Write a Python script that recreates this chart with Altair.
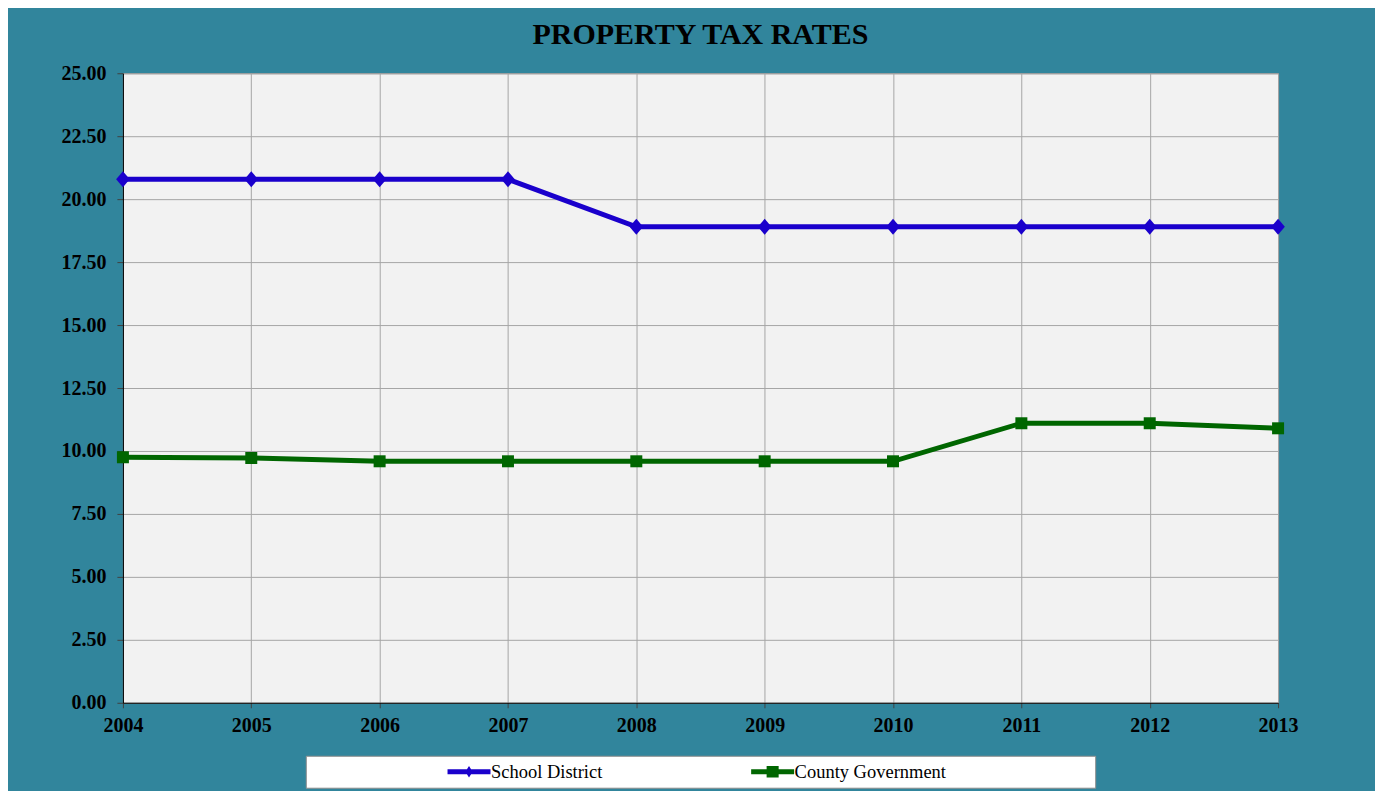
import altair as alt
import pandas as pd

# ---- data ----
years = [2004, 2005, 2006, 2007, 2008, 2009, 2010, 2011, 2012, 2013]
school_district = [20.79, 20.79, 20.79, 20.79, 18.90, 18.90, 18.90, 18.90, 18.90, 18.90]
county_government = [9.75, 9.72, 9.59, 9.59, 9.59, 9.59, 9.59, 11.10, 11.10, 10.90]
series_names = ["School District", "County Government"]
series_colors = ["#1a00cc", "#006600"]
y_ticks = [0, 2.5, 5, 7.5, 10, 12.5, 15, 17.5, 20, 22.5, 25]

FONT = "Liberation Serif"
BG = "#31859c"

# marker shapes (unit square paths)
DIAMOND = "M0,-1L0.85,0L0,1L-0.85,0Z"
SQUARE = "M-0.75,-0.75L0.75,-0.75L0.75,0.75L-0.75,0.75Z"
# legend symbols: line segment with marker
LEG_DIAMOND = "M-1,-0.12L1,-0.12L1,0.12L-1,0.12Z M0,-0.27L0.17,0L0,0.27L-0.17,0Z"
LEG_SQUARE = "M-1,-0.12L1,-0.12L1,0.12L-1,0.12Z M-0.28,-0.27L0.28,-0.27L0.28,0.27L-0.28,0.27Z"

df = pd.DataFrame({
    "year": years + years,
    "rate": school_district + county_government,
    "series": [series_names[0]] * len(years) + [series_names[1]] * len(years),
})

color = alt.Color("series:N", scale=alt.Scale(domain=series_names, range=series_colors), legend=None)

base = alt.Chart(df).encode(
    x=alt.X("year:Q",
            scale=alt.Scale(domain=[2004, 2013], nice=False, zero=False),
            axis=alt.Axis(values=years, format="d", title=None, labelFlush=False,
                          labelOverlap=False, labelPadding=8, tickSize=5,
                          domainColor="black", grid=True)),
    y=alt.Y("rate:Q",
            scale=alt.Scale(domain=[0, 25], nice=False, zero=True),
            axis=alt.Axis(values=y_ticks, format=".2f", title=None, labelPadding=11,
                          tickSize=6, domainColor="black", grid=True)),
    color=color,
)

lines = base.mark_line(strokeWidth=5)
points = base.mark_point(filled=True, opacity=1, size=256).encode(
    shape=alt.Shape("series:N", scale=alt.Scale(domain=series_names, range=[DIAMOND, SQUARE]), legend=None)
)

main = alt.layer(lines, points).properties(
    width=1156,
    height=630,
    title=alt.TitleParams("PROPERTY TAX RATES", font=FONT, fontSize=30, fontWeight="bold",
                          color="black", anchor="middle", frame="group", offset=13),
    view=alt.ViewBackground(fill="#f2f2f2", stroke="#808080", strokeWidth=1),
)

# ---- legend panel ----
leg_df = pd.DataFrame({"series": series_names})
lx = alt.X("series:N",
           scale=alt.Scale(type="point", domain=series_names, padding=0.8, align=0.336),
           axis=None)
leg_sym = alt.Chart(leg_df).mark_point(filled=True, opacity=1, size=1849).encode(
    x=lx,
    color=color,
    shape=alt.Shape("series:N", scale=alt.Scale(domain=series_names, range=[LEG_DIAMOND, LEG_SQUARE]),
                    legend=None),
)
leg_txt = alt.Chart(leg_df).mark_text(align="left", baseline="middle", dx=22, font=FONT,
                                      fontSize=18.5, color="black").encode(
    x=lx,
    text="series:N",
)
legend_panel = alt.layer(leg_sym, leg_txt).properties(
    width=790,
    height=32,
    view=alt.ViewBackground(fill="white", stroke="#8c8c8c", strokeWidth=1),
)

chart = alt.vconcat(main, legend_panel, spacing=53, bounds="flush", center=True).resolve_scale(
    x="independent", y="independent", shape="independent", color="shared"
).configure(
    background=BG,
    padding={"top": 11, "left": 52, "right": 76, "bottom": 2},
    font=FONT,
).configure_axis(
    labelFont=FONT,
    labelFontSize=20,
    labelFontWeight="bold",
    labelColor="black",
    gridColor="#a6a6a6",
    gridWidth=1,
    tickColor="#404040",
    domainWidth=1,
)

chart.save("out.html", embed_options={"renderer": "svg", "actions": False})
